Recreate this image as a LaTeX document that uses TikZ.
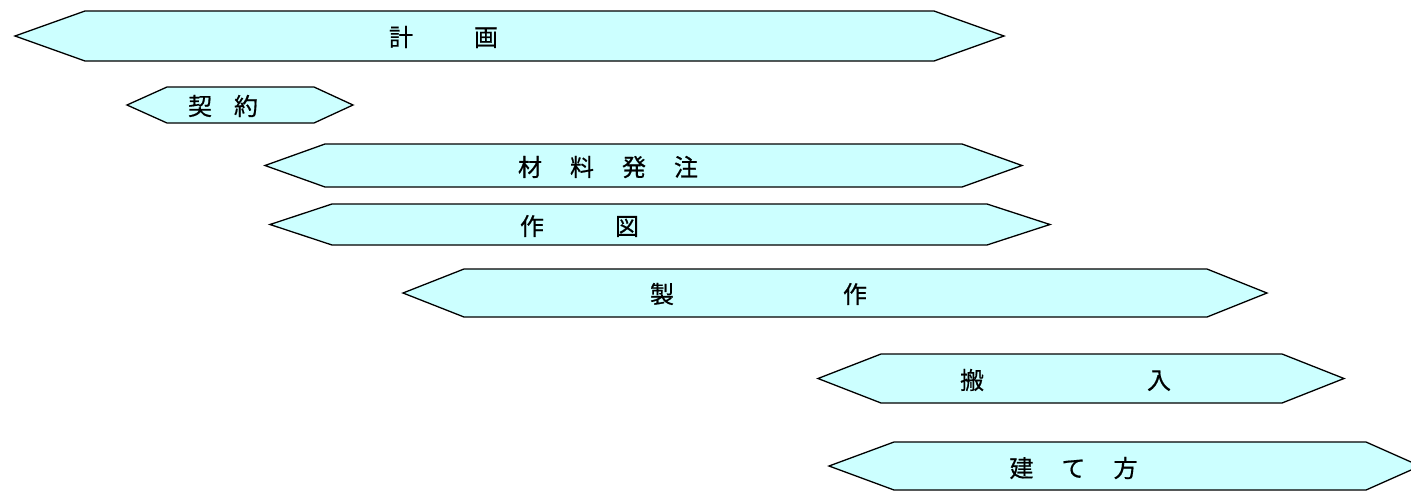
\documentclass[tikz,border=0pt]{standalone}
\usepackage{fontspec}
\newfontfamily\jp[FakeBold=0.6]{Noto Sans CJK JP}
\definecolor{barfill}{HTML}{CCFFFF}
\tikzset{
  bar/.style={draw=black, fill=barfill, line width=1.3pt, line join=miter},
  lbl/.style={font=\jp\fontsize{24}{24}\selectfont, text=black, inner sep=0pt, anchor=center}
}
\newcommand{\hexbar}[6]{%
  \draw[bar] (#1,{(#5+#6)/2}) -- (#2,#5) -- (#3,#5) -- (#4,{(#5+#6)/2}) -- (#3,#6) -- (#2,#6) -- cycle;}
\begin{document}
\begin{tikzpicture}[x=1pt,y=-1pt]
\useasboundingbox (0,0) rectangle (1411,491);
\clip (0,0) rectangle (1411,491);
\hexbar{15}{85}{934}{1004}{11}{61}
\hexbar{127}{167}{314}{353}{87}{123}
\hexbar{265}{325}{962}{1022}{144}{187}
\hexbar{270}{332}{987}{1050}{204}{245}
\hexbar{403}{464}{1207}{1267}{269}{317}
\hexbar{818}{881}{1282}{1344}{354}{403}
\hexbar{829}{894}{1366}{1420}{442}{490}
\node[lbl] (keikaku) at (443.5,37) {計\hspace{61pt}画};
\node[lbl] (keiyaku) at (223,106) {契\hspace{22pt}約};
\node[lbl] (zairyo) at (608,167) {材\hspace{28pt}料\hspace{28pt}発\hspace{28pt}注};
\node[lbl] (sakuzu) at (579.5,226) {作\hspace{71pt}図};
\node[lbl] (seisaku) at (758.5,294) {製\hspace{169pt}作};
\node[lbl] (hannyu) at (1065.5,380) {搬\hspace{163pt}入};
\node[lbl] (tatekata) at (1073.5,468) {建\hspace{28pt}て\hspace{28pt}方};
\end{tikzpicture}
\end{document}
